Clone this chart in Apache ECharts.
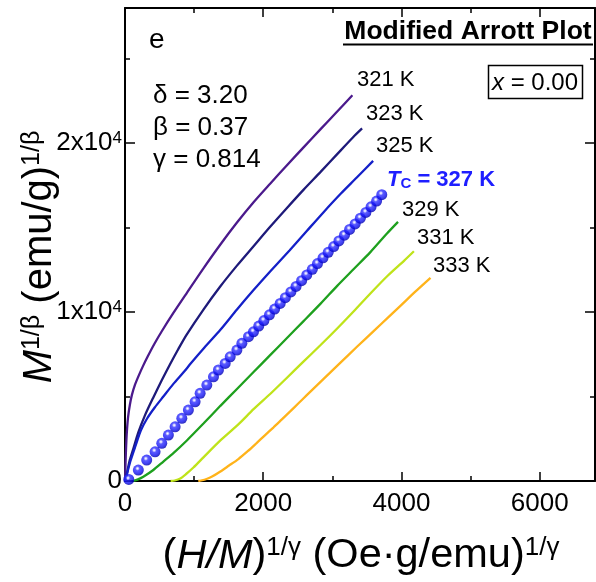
<!DOCTYPE html>
<html><head><meta charset="utf-8">
<script src="https://cdn.jsdelivr.net/npm/echarts@6/dist/echarts.min.js"></script>
<style>html,body{margin:0;padding:0;background:#fff}#c{width:596px;height:582px}</style>
</head><body><div id="c"></div>
<script>
const FONT = 'Liberation Sans, Arial, sans-serif';

// ---- data (x = (H/M)^(1/gamma), y = M^(1/beta)) ----
const curveNames = ['321 K', '323 K', '325 K', 'T_C = 327 K', '329 K', '331 K', '333 K'];

const x321 = [0, 5, 12, 20, 30, 45, 70, 100, 145, 200, 260, 330, 420, 530, 700, 900, 1130, 1380, 1620, 1860, 2100, 2340, 2590, 2830, 3060, 3290];
const y321 = [0, 700, 1600, 2400, 3100, 3800, 4500, 5100, 5700, 6250, 6800, 7380, 8080, 8850, 9950, 11170, 12560, 14000, 15300, 16500, 17600, 18680, 19780, 20830, 21830, 22830];

const x323 = [0, 10, 25, 45, 70, 120, 190, 290, 410, 530, 650, 770, 890, 1135, 1375, 1620, 1860, 2100, 2340, 2585, 2830, 3070, 3300, 3430];
const y323 = [0, 200, 400, 800, 1250, 1900, 2850, 3900, 4950, 5950, 6900, 7800, 8650, 10150, 11500, 12750, 13900, 15050, 16150, 17250, 18300, 19350, 20350, 20870];

const x325 = [0, 15, 40, 80, 145, 230, 320, 430, 555, 700, 850, 950, 1150, 1380, 1620, 1860, 2100, 2380, 2630, 2870, 3120, 3350, 3590];
const y325 = [0, 200, 600, 1200, 2000, 3000, 3700, 4350, 5000, 5750, 6450, 6950, 7900, 8950, 10150, 11300, 12400, 13650, 14800, 15900, 17000, 17950, 18950];

const x327 = [55, 193, 314, 435, 532, 628, 725, 822, 917, 1014, 1087, 1184, 1280, 1352, 1449, 1522, 1619, 1691, 1787, 1859, 1935, 2010, 2090, 2165, 2245, 2320, 2400, 2475, 2555, 2630, 2710, 2785, 2865, 2940, 3020, 3095, 3175, 3250, 3330, 3405, 3485, 3560, 3640, 3715];
const y327 = [90, 650, 1240, 1730, 2230, 2720, 3210, 3710, 4200, 4690, 5190, 5680, 6170, 6570, 6960, 7350, 7750, 8150, 8540, 8830, 9170, 9500, 9840, 10180, 10510, 10850, 11190, 11520, 11860, 12200, 12530, 12870, 13210, 13540, 13880, 14210, 14550, 14890, 15220, 15560, 15900, 16230, 16570, 16950];

const x329 = [120, 180, 265, 410, 555, 700, 895, 1135, 1380, 1620, 1860, 2100, 2340, 2580, 2830, 3070, 3310, 3550, 3790, 3950];
const y329 = [0, 80, 250, 650, 1150, 1650, 2400, 3400, 4450, 5450, 6450, 7450, 8450, 9450, 10500, 11550, 12550, 13550, 14650, 15340];

const x331 = [660, 720, 800, 880, 990, 1135, 1380, 1640, 1860, 2100, 2340, 2585, 2830, 3070, 3310, 3550, 3800, 4040, 4180];
const y331 = [0, 30, 150, 400, 800, 1400, 2400, 3350, 4250, 5150, 6100, 7080, 8050, 9030, 10050, 11100, 12150, 13050, 13600];

const x333 = [1060, 1100, 1180, 1260, 1380, 1500, 1640, 1780, 1900, 2020, 2150, 2270, 2390, 2510, 2630, 2870, 3110, 3360, 3620, 3800, 4000, 4200, 4420];
const y333 = [0, 30, 120, 260, 560, 900, 1300, 1780, 2230, 2690, 3180, 3650, 4120, 4600, 5080, 6030, 6980, 7960, 8960, 9660, 10430, 11210, 12030];

const xTickLabels = ['0', '2000', '4000', '6000'];
const yTickValues = [0, 10000, 20000];
const yTickMantissa = ['0', '1x10', '2x10'];
const yTickExponent = ['', '4', '4'];

const lineColors = ['#4b1a8c', '#1e1a7a', '#1420c8', '#1e1eff', '#1ea01e', '#bfe31a', '#ffb31a'];

// ---- build ----
function pairs(xs, ys) { return xs.map((x, i) => [x, ys[i]]); }

const lineData = [
  [x321, y321, 0], [x323, y323, 1], [x325, y325, 2],
  [x329, y329, 4], [x331, y331, 5], [x333, y333, 6]
];

const series = lineData.map(([xs, ys, k]) => ({
  name: curveNames[k], type: 'line', data: pairs(xs, ys), showSymbol: false,
  lineStyle: { color: lineColors[k], width: 2.3 }, smooth: 0.25, z: 3
}));

series.push({
  name: curveNames[3], type: 'scatter', data: pairs(x327, y327), symbol: 'circle', symbolSize: 11, z: 4,
  itemStyle: {
    color: new echarts.graphic.RadialGradient(0.42, 0.36, 0.6, [
      { offset: 0, color: '#ffffff' }, { offset: 0.14, color: '#c8c8ff' },
      { offset: 0.34, color: '#3232ff' }, { offset: 0.75, color: '#1212f2' }, { offset: 1, color: '#0000b8' }
    ])
  }
});

const axisLineStyle = { color: '#000', width: 2 };
const tickStyle = { color: '#000', width: 1.5 };
const xBase = { type: 'value', min: 0, max: 6800, splitLine: { show: false } };
const yBase = { type: 'value', min: 0, max: 28000, splitLine: { show: false } };

const xAxis = [
  Object.assign({}, xBase, {
    position: 'bottom', interval: 2000,
    axisLine: { onZero: false, lineStyle: axisLineStyle },
    axisTick: { inside: true, length: 9, lineStyle: tickStyle },
    axisLabel: {
      formatter: v => (v % 2000 === 0 && v / 2000 < xTickLabels.length) ? xTickLabels[v / 2000] : '',
      fontSize: 26, fontFamily: FONT, color: '#000', margin: 10, showMaxLabel: false
    }
  }),
  Object.assign({}, xBase, {
    position: 'bottom', interval: 1000,
    axisLine: { show: false, onZero: false },
    axisTick: { inside: true, length: 5, lineStyle: tickStyle }, axisLabel: { show: false }
  }),
  Object.assign({}, xBase, {
    position: 'top', interval: 2000,
    axisLine: { onZero: false, lineStyle: axisLineStyle },
    axisTick: { inside: true, length: 9, lineStyle: tickStyle }, axisLabel: { show: false }
  }),
  Object.assign({}, xBase, {
    position: 'top', interval: 1000,
    axisLine: { show: false, onZero: false },
    axisTick: { inside: true, length: 5, lineStyle: tickStyle }, axisLabel: { show: false }
  })
];

const yAxis = [
  Object.assign({}, yBase, {
    position: 'left', interval: 10000,
    axisLine: { onZero: false, lineStyle: axisLineStyle },
    axisTick: { inside: true, length: 10, lineStyle: tickStyle },
    axisLabel: {
      formatter: v => {
        const i = yTickValues.indexOf(v);
        if (i < 0) return '';
        return yTickExponent[i] ? '{a|' + yTickMantissa[i] + '}{s|' + yTickExponent[i] + '}' : '{a|' + yTickMantissa[i] + '}';
      },
      margin: 3, showMaxLabel: false,
      rich: {
        a: { fontSize: 26, fontFamily: FONT, color: '#000' },
        s: { fontSize: 17, fontFamily: FONT, color: '#000', verticalAlign: 'top' }
      }
    }
  }),
  Object.assign({}, yBase, {
    position: 'left', interval: 5000,
    axisLine: { show: false, onZero: false },
    axisTick: { inside: true, length: 5, lineStyle: tickStyle }, axisLabel: { show: false }
  }),
  Object.assign({}, yBase, {
    position: 'right', interval: 10000,
    axisLine: { onZero: false, lineStyle: axisLineStyle },
    axisTick: { inside: true, length: 10, lineStyle: tickStyle }, axisLabel: { show: false }
  }),
  Object.assign({}, yBase, {
    position: 'right', interval: 5000,
    axisLine: { show: false, onZero: false },
    axisTick: { inside: true, length: 5, lineStyle: tickStyle }, axisLabel: { show: false }
  })
];

// ---- annotations ----
function label(text, x, y, size, extra) {
  return { type: 'text', x: x, y: y, z: 10,
    style: Object.assign({ text: text, fill: '#000', fontSize: size, fontFamily: FONT, align: 'left', verticalAlign: 'middle' }, extra || {}) };
}

const curveLabelPos = [[357, 80], [366, 114], [376, 146], null, [402, 210], [417, 238], [433, 266]];
const graphics = [];
curveLabelPos.forEach((p, i) => { if (p) graphics.push(label(curveNames[i], p[0], p[1], 22)); });

graphics.push({
  type: 'text', x: 387, y: 180, z: 10,
  style: {
    text: '{t|T}{c|C}{b| = 327 K}', align: 'left', verticalAlign: 'middle',
    rich: {
      t: { fontSize: 22, fontFamily: FONT, fontWeight: 'bold', fontStyle: 'italic', fill: '#1e1eff' },
      c: { fontSize: 15, fontFamily: FONT, fontWeight: 'bold', fill: '#1e1eff', verticalAlign: 'bottom' },
      b: { fontSize: 22, fontFamily: FONT, fontWeight: 'bold', fill: '#1e1eff' }
    }
  }
});

graphics.push(label('e', 149, 40, 28));
graphics.push(label('δ = 3.20', 153, 96, 26));
graphics.push(label('β = 0.37', 153, 128, 26));
graphics.push(label('γ = 0.814', 153, 160, 26));

graphics.push(label('Modified Arrott Plot', 468, 32, 26.5, { fontWeight: 'bold', align: 'center' }));
graphics.push({ type: 'line', z: 10, shape: { x1: 343, y1: 44.5, x2: 593, y2: 44.5 }, style: { stroke: '#000', lineWidth: 2 } });

graphics.push({ type: 'rect', z: 10, shape: { x: 488.5, y: 65.5, width: 94, height: 33 }, style: { stroke: '#000', lineWidth: 1.5, fill: '#fff' } });
graphics.push({
  type: 'text', x: 535, y: 83, z: 11,
  style: {
    text: '{i|x}{n| = 0.00}', align: 'center', verticalAlign: 'middle',
    rich: {
      i: { fontSize: 24, fontFamily: FONT, fontStyle: 'italic', fill: '#000' },
      n: { fontSize: 24, fontFamily: FONT, fill: '#000' }
    }
  }
});

// axis titles
graphics.push({
  type: 'text', x: 361, y: 556, z: 10,
  style: {
    text: '{n|(}{i|H/M}{n|)}{s|1/γ}{n| (Oe·g/emu)}{s|1/γ}', align: 'center', verticalAlign: 'middle',
    rich: {
      n: { fontSize: 41.5, fontFamily: FONT, fill: '#000' },
      i: { fontSize: 41.5, fontFamily: FONT, fontStyle: 'italic', fill: '#000' },
      s: { fontSize: 26, fontFamily: FONT, fill: '#000', verticalAlign: 'top' }
    }
  }
});
graphics.push({
  type: 'text', x: 40, y: 257, rotation: Math.PI / 2, z: 10,
  style: {
    text: '{i|M}{s|1/β}{n| (emu/g)}{s|1/β}', align: 'center', verticalAlign: 'middle',
    rich: {
      n: { fontSize: 40, fontFamily: FONT, fill: '#000' },
      i: { fontSize: 40, fontFamily: FONT, fontStyle: 'italic', fill: '#000' },
      s: { fontSize: 25, fontFamily: FONT, fill: '#000', verticalAlign: 'top' }
    }
  }
});

const chart = echarts.init(document.getElementById('c'), null, { renderer: 'canvas' });
chart.setOption({
  animation: false,
  backgroundColor: '#fff',
  grid: { left: 125, right: 1, top: 8, bottom: 101, containLabel: false },
  xAxis: xAxis,
  yAxis: yAxis,
  series: series,
  graphic: graphics
});
</script></body></html>
